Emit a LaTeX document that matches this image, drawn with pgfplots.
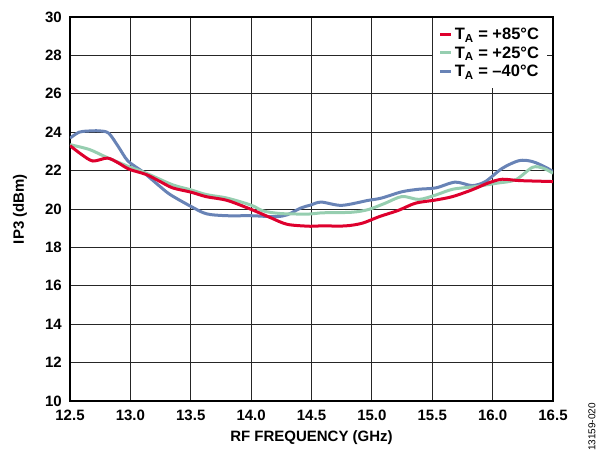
\documentclass[border=0pt]{standalone}
\usepackage{fontspec}
\setmainfont{Liberation Sans}
\usepackage{pgfplots}
\pgfplotsset{compat=1.18}
\definecolor{cred}{RGB}{222,0,45}
\definecolor{cgreen}{RGB}{150,206,176}
\definecolor{cblue}{RGB}{104,131,182}
\begin{document}
\begin{tikzpicture}
\begin{axis}[
  name=ax,
  scale only axis, width=483pt, height=384pt,
  xmin=12.5, xmax=16.5, ymin=10, ymax=30,
  xtick={12.5,13,13.5,14,14.5,15,15.5,16,16.5},
  ytick={10,12,14,16,18,20,22,24,26,28,30},
  xticklabel style={/pgf/number format/fixed, /pgf/number format/fixed zerofill, /pgf/number format/precision=1, yshift=-8pt},
  /pgf/number format/assume math mode=true,
  grid=major, grid style={black!85, line width=0.9pt},
  axis line style={line width=1.8pt},
  tick style={draw=none},
  ticklabel style={font=\fontsize{15}{18}\selectfont\bfseries, inner sep=1pt},
  yticklabel style={xshift=-7pt},
  xlabel={RF FREQUENCY (GHz)}, ylabel={IP3 (dBm)},
  label style={font=\fontsize{15}{18}\selectfont\bfseries},
  xlabel style={at={(axis description cs:0.5,-0.0964)}, anchor=center},
  ylabel style={at={(axis description cs:-0.1035,0.5)}, anchor=center},
  legend style={at={(axis description cs:0.988,0.998)}, anchor=north east, draw=none, fill=white,
    font=\fontsize{16.5}{19}\selectfont\bfseries, inner xsep=6pt, inner ysep=8pt,
    row sep=1.5pt},
  legend cell align=left,
  reverse legend,
  legend image code/.code={\draw[#1, line width=3pt] (0pt,0pt) -- (11pt,0pt);},
]
\addplot[cblue, line width=3pt, smooth] coordinates {
(12.5,23.69) (12.575,24.0) (12.65,24.06) (12.74,24.07) (12.82,23.95) (12.9,23.25)
(12.98,22.5) (13.1,21.95) (13.24,21.2) (13.33,20.75) (13.5,20.14) (13.63,19.75)
(13.8,19.65) (14.0,19.65) (14.2,19.6) (14.3,19.7) (14.41,20.05) (14.49,20.2)
(14.58,20.36) (14.75,20.19) (14.97,20.45) (15.08,20.57) (15.25,20.9) (15.39,21.03)
(15.53,21.1) (15.69,21.4) (15.83,21.22) (15.94,21.43) (16.08,22.12) (16.22,22.52)
(16.33,22.47) (16.44,22.17) (16.5,21.95)
};
\addlegendentry{T\textsubscript{A} = –40°C}
\addplot[cgreen, line width=3pt, smooth] coordinates {
(12.5,23.35) (12.66,23.1) (12.8,22.7) (12.99,22.2) (13.13,21.87) (13.35,21.26)
(13.5,21.0) (13.63,20.75) (13.8,20.57) (14.0,20.2) (14.1,19.9) (14.25,19.76)
(14.49,19.74) (14.58,19.8) (14.83,19.83) (14.97,19.97) (15.11,20.3) (15.25,20.65)
(15.39,20.5) (15.53,20.73) (15.67,21.03) (15.86,21.17) (16.03,21.34) (16.19,21.52)
(16.33,22.17) (16.42,22.12) (16.5,21.86)
};
\addlegendentry{T\textsubscript{A} = +25°C}
\addplot[cred, line width=3pt, smooth] coordinates {
(12.5,23.3) (12.6,22.82) (12.69,22.5) (12.81,22.65) (12.9,22.4) (12.99,22.07)
(13.13,21.8) (13.24,21.45) (13.35,21.1) (13.5,20.88) (13.63,20.64) (13.8,20.45)
(14.0,19.98) (14.16,19.55) (14.3,19.2) (14.49,19.1) (14.58,19.12) (14.78,19.12)
(14.92,19.26) (15.06,19.6) (15.22,19.93) (15.36,20.3) (15.53,20.47) (15.67,20.65)
(15.83,21.0) (15.97,21.37) (16.08,21.55) (16.22,21.48) (16.5,21.43)
};
\addlegendentry{T\textsubscript{A} = +85°C}
\end{axis}
\node[rotate=90, font=\fontsize{10}{12}\selectfont] at ([shift={(39pt,-26pt)}]ax.south east) {13159-020};
\useasboundingbox ([shift={(-70pt,-57pt)}]ax.south west) rectangle ([shift={(56pt,17pt)}]ax.north east);
\end{tikzpicture}
\end{document}
